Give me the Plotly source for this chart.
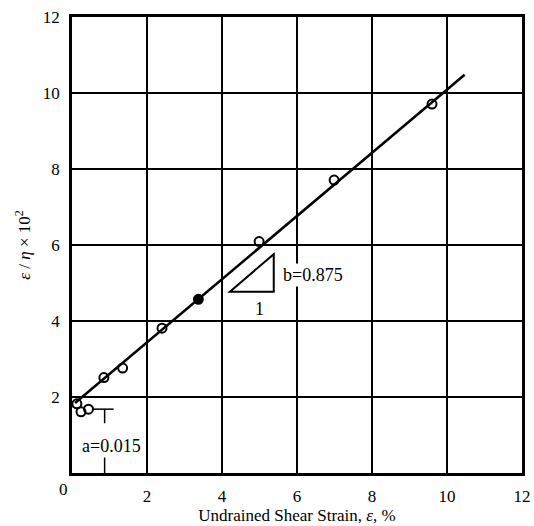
import plotly.graph_objects as go

# Data
strain = [0.13, 0.24, 0.44, 0.85, 1.35, 2.40, 3.37, 4.99, 6.99, 9.60]
ratio = [1.82, 1.61, 1.68, 2.51, 2.76, 3.81, 4.57, 6.09, 7.71, 9.71]
symbols = ["circle-open", "circle-open", "circle-open", "circle-open", "circle-open",
           "circle-open", "circle", "circle-open", "circle-open", "circle-open"]
fit_x = [0.08, 10.47]
fit_y = [1.84, 10.48]
tick_vals = [2, 4, 6, 8, 10, 12]
tick_text = ["2", "4", "6", "8", "10", "12"]

FONT = "Liberation Serif, Times New Roman, serif"

fig = go.Figure()
fig.add_trace(go.Scatter(x=fit_x, y=fit_y, mode="lines",
                         line=dict(color="black", width=2.5), showlegend=False))
fig.add_trace(go.Scatter(x=strain, y=ratio, mode="markers",
                         marker=dict(symbol=symbols, size=9, color="black",
                                     line=dict(color="black", width=2)),
                         showlegend=False))

# 'a' marker lines
fig.add_shape(type="line", x0=0.56, x1=1.11, y0=1.68, y1=1.68, line=dict(color="black", width=1.5))
fig.add_shape(type="line", x0=0.87, x1=0.87, y0=1.68, y1=1.31, line=dict(color="black", width=1.5))
fig.add_shape(type="line", x0=0.87, x1=0.87, y0=0.43, y1=0, line=dict(color="black", width=1.5))
# slope triangle
fig.add_shape(type="path", path="M 4.21 4.77 L 5.38 4.77 L 5.38 5.76 Z",
              line=dict(color="black", width=2))

fig.add_annotation(x=1.05, y=0.71, text="a=0.015", showarrow=False, bgcolor="white",
                   font=dict(family=FONT, size=18, color="black"))
fig.add_annotation(x=6.42, y=5.21, text="b=0.875", showarrow=False, bgcolor="white",
                   font=dict(family=FONT, size=18, color="black"))
fig.add_annotation(x=4.99, y=4.31, text="1", showarrow=False,
                   font=dict(family=FONT, size=18, color="black"))
fig.add_annotation(x=0, y=0, text="0", showarrow=False, xshift=-9, yshift=-16,
                   font=dict(family=FONT, size=17, color="black"))

axis_common = dict(range=[0, 12], tickvals=tick_vals, ticktext=tick_text,
                   showgrid=True, gridcolor="black", gridwidth=1.8,
                   showline=True, linecolor="black", linewidth=2.5, mirror=True,
                   zeroline=False, ticks="", ticklabelstandoff=6, automargin=False,
                   tickfont=dict(family=FONT, size=17, color="black"))

fig.update_xaxes(**axis_common,
                 title=dict(text="Undrained Shear Strain, <i>ε</i>, %", standoff=0,
                            font=dict(family=FONT, size=17, color="black")))
fig.update_yaxes(**axis_common,
                 title=dict(text="<i>ε</i> / <i>η</i> × 10<sup>2</sup>", standoff=8,
                            font=dict(family=FONT, size=17, color="black")))

fig.update_layout(width=534, height=526, margin=dict(l=72, r=12, t=17, b=53),
                  plot_bgcolor="white", paper_bgcolor="white")

fig.write_html("out.html")
